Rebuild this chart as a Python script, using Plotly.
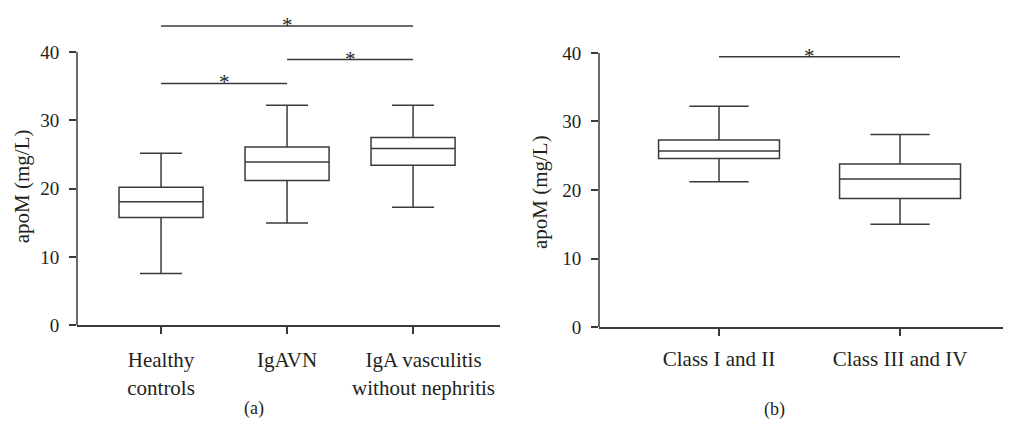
import plotly.graph_objects as go

# ---- data ----
NB = "\u00a0" * 4
groups_a = ["Healthy<br>controls", "IgAVN",
            NB + "IgA vasculitis<br>" + NB + "without nephritis"]
lower_a = [7.6, 15.0, 17.3]
q1_a = [15.8, 21.2, 23.45]
median_a = [18.1, 23.9, 25.9]
q3_a = [20.2, 26.1, 27.5]
upper_a = [25.2, 32.2, 32.2]

groups_b = ["Class I and II", "Class III and IV"]
lower_b = [21.2, 15.0]
q1_b = [24.6, 18.75]
median_b = [25.7, 21.6]
q3_b = [27.3, 23.8]
upper_b = [32.2, 28.1]

# significance brackets: (from index, to index, level)
sig_a = [(0, 2, 43.8), (1, 2, 38.9), (0, 1, 35.4)]
sig_b = [(0, 1, 39.45)]

yticks = [0, 10, 20, 30, 40]

LC = "#3a3a3a"   # line colour
TC = "#231f20"   # text colour
FONT = "Liberation Serif"
OFF = 8                      # page body margin
W, H = 1011 - 2 * OFF, 436 - 2 * OFF
LW = 1.5

fig = go.Figure()

fig.add_trace(go.Box(
    x=list(range(len(groups_a))), q1=q1_a, median=median_a, q3=q3_a,
    lowerfence=lower_a, upperfence=upper_a,
    width=0.667, whiskerwidth=0.5, fillcolor="white", boxpoints=False,
    line=dict(color=LC, width=LW), xaxis="x", yaxis="y", showlegend=False,
))
fig.add_trace(go.Box(
    x=list(range(len(groups_b))), q1=q1_b, median=median_b, q3=q3_b,
    lowerfence=lower_b, upperfence=upper_b,
    width=0.668, whiskerwidth=0.49, fillcolor="white", boxpoints=False,
    line=dict(color=LC, width=LW), xaxis="x2", yaxis="y2", showlegend=False,
))

# pixel (screen) -> paper fraction helpers
def fx(px):
    return (px - OFF) / W

def fy(py):
    return (H - (py - OFF)) / H

YMAX = 46
ya0, ya1 = 334.0, 334.0 - YMAX * 7.02
yb0, yb1 = 335.7, 335.7 - YMAX * 7.04

axis_common = dict(showgrid=False, zeroline=False, showline=True, linecolor=LC,
                   linewidth=LW, ticks="outside", ticklen=7, tickwidth=LW,
                   tickcolor=LC, tickfont=dict(family=FONT, size=21, color=TC))
yaxis_common = dict(showgrid=False, zeroline=False, showline=False,
                    ticks="outside", ticklen=7, tickwidth=LW, tickcolor=LC,
                    tickfont=dict(family=FONT, size=19, color=TC),
                    range=[0, YMAX], tickvals=yticks, ticklabelstandoff=6)

fig.update_layout(
    width=W, height=H, margin=dict(l=0, r=0, t=0, b=0),
    paper_bgcolor="white", plot_bgcolor="white",
    xaxis=dict(domain=[fx(77), fx(500)], range=[-0.667, 2.69],
               tickvals=list(range(len(groups_a))), ticktext=groups_a,
               anchor="y", ticklabelstandoff=8, **axis_common),
    yaxis=dict(domain=[fy(ya0), fy(ya1)], anchor="x", **yaxis_common),
    xaxis2=dict(domain=[fx(599), 1.0], range=[-0.663, 1.613 - 8 / 181],
                tickvals=list(range(len(groups_b))), ticktext=groups_b,
                anchor="y2", ticklabelstandoff=5, **axis_common),
    yaxis2=dict(domain=[fy(yb0), fy(yb1)], anchor="x2", **yaxis_common),
)

shapes = []
annotations = []
# y axis lines from 0 to 40
for xr, yr in [("x domain", "y"), ("x2 domain", "y2")]:
    shapes.append(dict(type="line", xref=xr, yref=yr, x0=0, x1=0, y0=0, y1=40,
                       line=dict(color=LC, width=LW)))

for sig, xr, yr in [(sig_a, "x", "y"), (sig_b, "x2", "y2")]:
    for i0, i1, lvl in sig:
        shapes.append(dict(type="line", xref=xr, yref=yr, x0=i0, x1=i1,
                           y0=lvl, y1=lvl, line=dict(color=LC, width=LW)))
        annotations.append(dict(xref=xr, yref=yr, x=(i0 + i1) / 2, y=lvl,
                                text="*", showarrow=False, xanchor="center",
                                yanchor="middle", yshift=1,
                                font=dict(family=FONT, size=21, color=TC)))

# y axis titles and panel labels
def label(x, y, text, size, angle=0):
    annotations.append(dict(xref="paper", yref="paper", x=fx(x), y=fy(y),
                            text=text, textangle=angle, showarrow=False,
                            xanchor="center", yanchor="middle",
                            font=dict(family=FONT, size=size, color=TC)))

label(22, 191, "apoM (mg/L)", 21, -90)
label(540, 197, "apoM (mg/L)", 21, -90)
label(254, 419, "(a)", 18)
label(774, 420, "(b)", 18)

fig.update_layout(shapes=shapes, annotations=annotations)

fig.write_html("out.html")
